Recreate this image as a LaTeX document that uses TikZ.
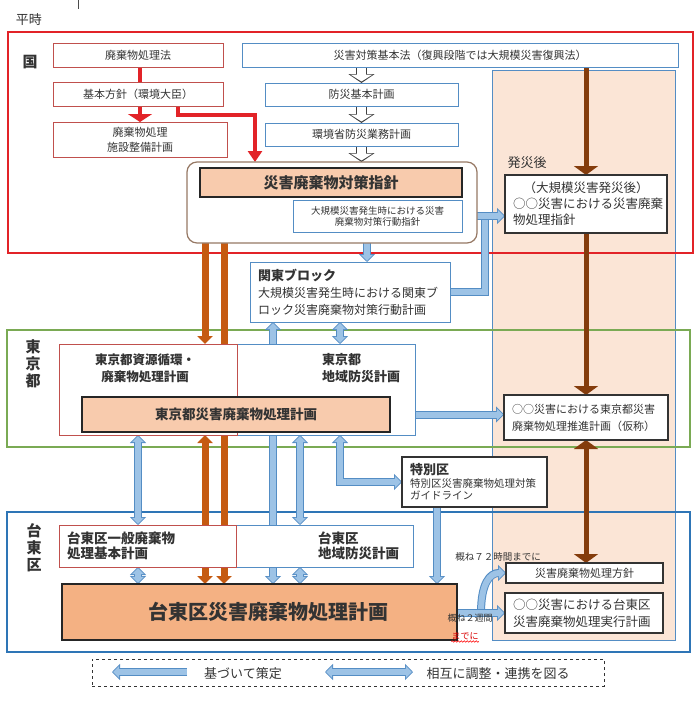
\documentclass[tikz,border=0pt]{standalone}
\usepackage{fontspec}
\setmainfont{Noto Sans CJK JP}
\usepackage{tikz}
\usetikzlibrary{arrows.meta,backgrounds,decorations.pathmorphing}
\definecolor{kunired}{RGB}{226,35,40}
\definecolor{boxred}{RGB}{192,80,77}
\definecolor{boxblue}{RGB}{84,141,196}
\definecolor{tokyogreen}{RGB}{122,170,84}
\definecolor{taitoblue}{RGB}{46,117,182}
\definecolor{planorange}{RGB}{248,203,173}
\definecolor{taitoorange}{RGB}{244,177,131}
\definecolor{hassaipeach}{RGB}{251,229,214}
\definecolor{arrowblue}{RGB}{157,195,230}
\definecolor{arroworange}{RGB}{197,90,17}
\definecolor{arrowbrown}{RGB}{132,60,12}
\definecolor{guidebrown}{RGB}{150,120,100}

\newcommand{\jpsize}[2]{\fontsize{#1}{#2}\selectfont}

\begin{document}
\begin{tikzpicture}[x=1pt, y=-1pt,
    every node/.style={text=black!80},
    redbox/.style={draw=boxred, fill=white, line width=0.9pt, inner sep=0pt, outer sep=0pt, align=center, font=\jpsize{11}{15}},
    bluebox/.style={draw=boxblue, fill=white, line width=0.9pt, inner sep=0pt, outer sep=0pt, align=center, font=\jpsize{11}{15}},
    blackbox/.style={draw=black!80, fill=white, line width=1.1pt, inner sep=0pt, inner xsep=8pt, outer sep=0pt, align=left, font=\jpsize{11}{17}},
    planbox/.style={draw=black!85, fill=planorange, line width=1.1pt, inner sep=0pt, outer sep=0pt, align=center, font=\bfseries\jpsize{13.5}{16}},
    boxtext/.style={inner sep=0pt, align=left},
    zone/.style={inner sep=0pt, align=center, font=\bfseries\jpsize{15}{17}},
    note/.style={inner sep=0pt, font=\jpsize{9.5}{11}},
    redarrow/.style={draw=kunired, line width=4.5pt},
    hollow/.style={draw=white, line width=9pt, -{Triangle[width=22pt,length=7pt]}, shorten >=1.5pt,
        preaction={draw=black!75, line width=11pt, -{Triangle[width=26pt,length=9pt]}, shorten >=0pt}},
    blueline/.style={draw=arrowblue, line width=6pt, preaction={draw=boxblue, line width=8pt}},
    blueone/.style={draw=arrowblue, line width=6pt, -{Triangle[width=12pt,length=6pt]}, shorten >=1.2pt,
        preaction={draw=boxblue, line width=8pt, -{Triangle[width=16pt,length=8pt]}, shorten >=0pt}},
    bluetwo/.style={draw=arrowblue, line width=6pt, {Triangle[width=12pt,length=6pt]}-{Triangle[width=12pt,length=6pt]}, shorten >=1.2pt, shorten <=1.2pt,
        preaction={draw=boxblue, line width=8pt, {Triangle[width=16pt,length=8pt]}-{Triangle[width=16pt,length=8pt]}, shorten >=0pt, shorten <=0pt}},
    orangeone/.style={draw=arroworange, line width=7pt, -{Triangle[width=15pt,length=8pt]}},
    orangetwo/.style={draw=arroworange, line width=7pt, {Triangle[width=15pt,length=8pt]}-{Triangle[width=15pt,length=8pt]}},
    brownone/.style={draw=arrowbrown, line width=5pt, -{Triangle[width=24pt,length=9pt]}},
    browntwo/.style={draw=arrowbrown, line width=5pt, {Triangle[width=24pt,length=9pt]}-{Triangle[width=24pt,length=9pt]}}
]
    \useasboundingbox (0,0) rectangle (700,717);

    % 平時
    \node[inner sep=0pt, font=\jpsize{13}{15}] (heiji) at (29,20) {平時};
    \draw[black!70, line width=1pt] (78,0) -- (78,9);

    % 国
    \node[zone] (kuni) at (30,62) {国};
    \node[redbox, minimum width=170pt, minimum height=24pt] (hoLaw) at (138,55) {廃棄物処理法};
    \node[redbox, minimum width=170pt, minimum height=24pt] (kihon) at (138,94) {基本方針（環境大臣）};
    \node[redbox, minimum width=174pt, minimum height=35pt] (shisetsu) at (140,139.5) {廃棄物処理\\施設整備計画};

    \node[bluebox, minimum width=436pt, minimum height=24pt] (saitaiLaw) at (460,55) {災害対策基本法（復興段階では大規模災害復興法）};
    \node[bluebox, minimum width=193pt, minimum height=23pt] (bousai) at (361.5,94.5) {防災基本計画};
    \node[bluebox, minimum width=193pt, minimum height=23pt] (kankyo) at (361.5,134.5) {環境省防災業務計画};

    \node[draw=guidebrown, fill=white, line width=1.2pt, rounded corners=10pt, minimum width=290pt, minimum height=81pt, inner sep=0pt, outer sep=0pt] (guide) at (332,202.5) {};
    \node[planbox, font=\bfseries\jpsize{15}{17}, minimum width=262pt, minimum height=29pt] (shishin) at (331,182.5) {災害廃棄物対策指針};
    \node[bluebox, font=\jpsize{9.5}{11}, minimum width=169pt, minimum height=32pt] (koudou) at (377.5,216) {大規模災害発生時における災害\\廃棄物対策行動指針};

    % 発災後
    \node[inner sep=0pt, font=\jpsize{13}{15}] (hassaiGo) at (527,163) {発災後};
    \node[blackbox, font=\jpsize{12.5}{16}, text width=146pt, minimum height=58pt] (hassai) at (586,204) {\makebox[146pt]{（大規模災害発災後）}\\○○災害における災害廃棄\\物処理指針};

    % 関東ブロック
    \node[bluebox, align=left, inner xsep=8pt, text width=184pt, minimum height=60pt, font=\jpsize{12}{17}] (kanto) at (350,292) {{\bfseries\jpsize{13}{17}関東ブロック}\\大規模災害発生時における関東ブ\\ロック災害廃棄物対策行動計画};

    % 東京都
    \node[zone] (tokyo) at (33,364) {東\\京\\都};
    \node[bluebox, minimum width=178pt, minimum height=91pt] (tokyoBousai) at (326,389.5) {};
    \node[redbox, minimum width=178pt, minimum height=91pt] (tokyoShigen) at (148,389.5) {};
    \node[boxtext, align=center, font=\bfseries\jpsize{12.5}{17}] (tokyoShigenText) at (145,368.5) {東京都資源循環・\\廃棄物処理計画};
    \node[boxtext, anchor=west, font=\bfseries\jpsize{13}{17}] (tokyoBousaiText) at (322,368.5) {東京都\\地域防災計画};
    \node[planbox, minimum width=308pt, minimum height=35pt] (tokyoPlan) at (236,414.5) {東京都災害廃棄物処理計画};
    \node[blackbox, text width=148pt, minimum height=45pt] (tokyoMaru) at (586,417.5) {○○災害における東京都災害\\廃棄物処理推進計画（仮称）};
    \node[blackbox, text width=129pt, minimum height=50pt, font=\jpsize{10.5}{12.5}] (tokubetsu) at (474.5,482) {{\bfseries\jpsize{13}{12.5}特別区}\\特別区災害廃棄物処理対策\\ガイドライン};

    % 台東区
    \node[zone] (taito) at (34,548) {台\\東\\区};
    \node[bluebox, minimum width=177pt, minimum height=42pt] (taitoBousai) at (324.5,546) {};
    \node[redbox, minimum width=177pt, minimum height=42pt] (taitoIppan) at (147.5,546) {};
    \node[boxtext, anchor=west, font=\bfseries\jpsize{13.5}{15}] (taitoIppanText) at (67,545.5) {台東区一般廃棄物\\処理基本計画};
    \node[boxtext, anchor=west, font=\bfseries\jpsize{13.5}{15}] (taitoBousaiText) at (318,545.5) {台東区\\地域防災計画};
    \node[planbox, fill=taitoorange, font=\bfseries\jpsize{20}{22}, minimum width=395pt, minimum height=56pt] (taitoPlan) at (259.5,612) {\hspace{17pt}台東区災害廃棄物処理計画};
    \node[blackbox, align=center, minimum width=157pt, minimum height=20pt] (houshin) at (584.5,573) {災害廃棄物処理方針};
    \node[blackbox, text width=142pt, minimum height=40pt, font=\jpsize{12.5}{17}] (jikkou) at (584,613) {○○災害における台東区\\災害廃棄物処理実行計画};

    \node[note] (note72) at (498,557) {概ね７２時間までに};
    \node[note, font=\jpsize{9}{11}] (note2w) at (470,618) {概ね２週間};
    \node[note, font=\jpsize{9}{11}, text=red!85!black] (note2wEnd) at (465,636) {までに};
    \draw[red, line width=0.6pt, decorate, decoration={snake, amplitude=0.8pt, segment length=3pt}] ([yshift=-1.5pt]note2wEnd.south west) -- ([yshift=-1.5pt]note2wEnd.south east);

    % columns of the connectors
    \coordinate (xRedA) at (140,0);
    \coordinate (xRedB) at (178,0);
    \coordinate (xRedC) at (255,0);
    \coordinate (xOrA) at (205,0);
    \coordinate (xOrB) at (224,0);
    \coordinate (xBlA) at (138,0);
    \coordinate (xBlB) at (273,0);
    \coordinate (xBlC) at (300,0);
    \coordinate (xBlD) at (340,0);
    \coordinate (xBlE) at (367,0);
    \coordinate (xBlF) at (437,0);
    \coordinate (xBlG) at (485,0);
    \coordinate (xBlH) at (481,0);

    \begin{scope}[on background layer]
        % 発災後 column and frames
        \node[draw=boxblue, fill=hassaipeach, line width=0.9pt, minimum width=183pt, minimum height=570pt, inner sep=0pt] (hassaiPanel) at (583.5,355) {};
        \draw[kunired, line width=2.2pt] (8,32) rectangle (693,253);
        \draw[tokyogreen, line width=1.6pt] (7,330) rectangle (690,447);
        \draw[taitoblue, line width=2.4pt] (7,512) rectangle (690,652);

        % 国
        \draw[redarrow] (hoLaw.south -| xRedA) -- (kihon.north -| xRedA);
        \draw[redarrow, -{Triangle[width=24pt,length=8pt]}] (kihon.south -| xRedA) -- (shisetsu.north -| xRedA);
        \draw[redarrow, -{Triangle[width=14pt,length=11pt]}] (kihon.south -| xRedB) -- ++(0,9) -| (guide.north -| xRedC);
        \draw[hollow] (saitaiLaw.south -| bousai.north) -- (bousai.north);
        \draw[hollow] (bousai.south) -- (kankyo.north);
        \draw[hollow] (kankyo.south) -- (kankyo.south |- guide.north);

        % 発災後
        \draw[brownone] (saitaiLaw.south -| hassai.north) -- (hassai.north);
        \draw[brownone] (hassai.south) -- (tokyoMaru.north);
        \draw[browntwo] (tokyoMaru.south) -- (tokyoMaru.south |- houshin.north);

        % 基づいて策定 / 相互に調整
        \draw[blueone] (guide.south -| xBlE) -- (kanto.north -| xBlE);
        \draw[blueline] (kanto.east) -| (xBlG |- koudou.east);
        \draw[blueone] (koudou.east) -- (koudou.east -| hassai.west);
        \draw[blueone] (tokyoBousai.north -| xBlB) -- (kanto.south -| xBlB);
        \draw[bluetwo] (kanto.south -| xBlD) -- (tokyoBousai.north -| xBlD);
        \draw[blueone] (tokyoBousai.east |- tokyoPlan.east) -- (tokyoMaru.west |- tokyoPlan.east);
        \draw[bluetwo] (tokyoShigen.south -| xBlA) -- (taitoIppan.north -| xBlA);
        \draw[blueone] (tokyoPlan.south -| xBlB) -- (taitoPlan.north -| xBlB);
        \draw[bluetwo] (tokyoBousai.south -| xBlC) -- (taitoBousai.north -| xBlC);
        \draw[bluetwo] (tokyoBousai.south -| xBlD) |- (tokubetsu.west);
        \draw[bluetwo] (taitoIppan.south -| xBlA) -- (taitoPlan.north -| xBlA);
        \draw[bluetwo] (taitoBousai.south -| xBlC) -- (taitoPlan.north -| xBlC);
        \draw[blueone] (tokubetsu.south -| xBlF) -- (taitoPlan.north -| xBlF);
        \draw[blueone] (xBlH |- jikkou.west) .. controls +(0,-30) and +(-16,0) .. (houshin.west);
        \draw[blueone] (taitoPlan.east |- jikkou.west) -- (jikkou.west);

        % orange
        \draw[orangeone] (guide.south -| xOrA) -- (tokyoShigen.north -| xOrA);
        \draw[orangetwo] (tokyoShigen.south -| xOrA) -- (taitoPlan.north -| xOrA);
        \draw[orangeone] (guide.south -| xOrB) -- (taitoPlan.north -| xOrB);
    \end{scope}

    % legend
    \node[draw=black!80, dashed, line width=0.8pt, minimum width=512pt, minimum height=27pt, inner sep=0pt] (legend) at (348,672.5) {};
    \node[inner sep=0pt, font=\jpsize{13}{15}] (lgBased) at (243,674) {基づいて策定};
    \node[inner sep=0pt, font=\jpsize{13}{15}] (lgMutual) at (498,674) {相互に調整・連携を図る};
    \coordinate (lgBasedFrom) at (187,672);
    \coordinate (lgBasedTo) at (112,672);
    \coordinate (lgMutualL) at (325,672);
    \coordinate (lgMutualR) at (413,672);
    \draw[blueone] (lgBasedFrom) -- (lgBasedTo);
    \draw[bluetwo] (lgMutualL) -- (lgMutualR);
\end{tikzpicture}
\end{document}
